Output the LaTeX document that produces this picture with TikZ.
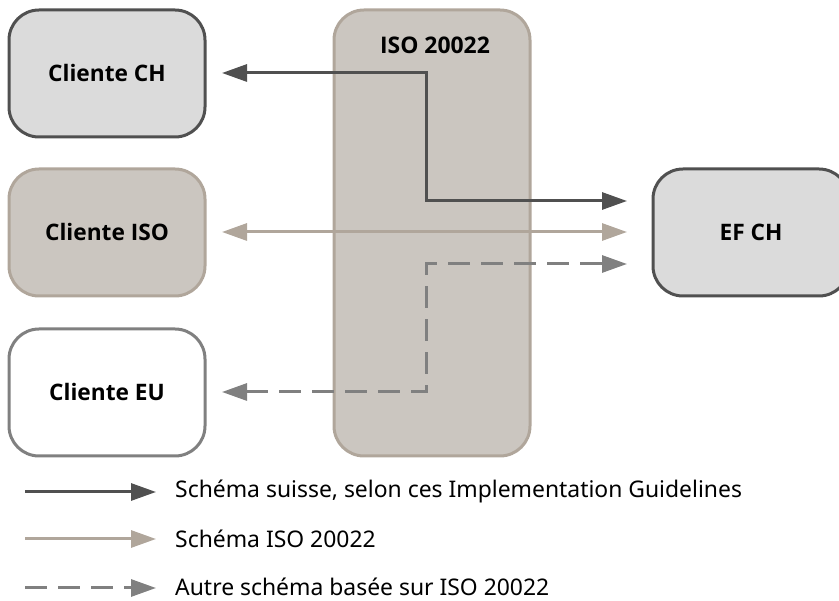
\documentclass[tikz,border=0pt]{standalone}
\usepackage{fontspec}
\setmainfont[BoldFont={Open Sans Bold}]{Noto Sans}
\usetikzlibrary{arrows.meta,calc}
\definecolor{dk}{HTML}{505050}
\definecolor{tan}{HTML}{B0A69B}
\definecolor{gr}{HTML}{808080}
\definecolor{lg}{HTML}{DBDBDB}
\definecolor{tanf}{HTML}{CBC6C0}
\tikzset{
  x=1pt,y=-1pt,
  headtip/.tip={Triangle[length=25pt,width=17pt]},
  boxnode/.style={rounded corners=30pt,line width=3pt,minimum width=196pt,minimum height=127pt,inner sep=0pt,font=\fontsize{22.7}{26}\selectfont\bfseries,text=black},
  chbox/.style={boxnode,draw=dk,fill=lg},
  isobox/.style={boxnode,draw=tan,fill=tanf},
  eubox/.style={boxnode,draw=gr,fill=white},
  conn/.style={line width=3pt},
  dkline/.style={conn,draw=dk},
  tanline/.style={conn,draw=tan},
  grline/.style={conn,draw=gr,dash pattern=on 22pt off 11pt},
  legtext/.style={anchor=west,inner sep=0pt,font=\fontsize{22.9}{26}\selectfont,text=black},
}
\begin{document}
\begin{tikzpicture}
\useasboundingbox (0,0) rectangle (839,601);
\node[isobox,minimum height=446pt] (iso) at (432,233) {};
\node[anchor=base,font=\fontsize{22.9}{26}\selectfont\bfseries,inner sep=0pt] (isot) at (435,54) {ISO 20022};
\node[chbox] (cch) at (107,73.5) {\raisebox{1pt}{Cliente CH}};
\node[isobox] (ciso) at (107,232.5) {\raisebox{1pt}{Cliente ISO}};
\node[eubox] (ceu) at (107,392.5) {\raisebox{1pt}{Cliente EU}};
\node[chbox] (ef) at (751,232.5) {\raisebox{1pt}{EF CH}};
% free ends
\coordinate (a1) at (222,73);
\coordinate (b1) at (627,201);
\coordinate (a2) at (222,232);
\coordinate (b2) at (627,232);
\coordinate (a3) at (222,392);
\coordinate (b3) at (627,264);
\coordinate (l1a) at (25,492);
\coordinate (l1b) at (156,492);
\coordinate (l2a) at (25,539);
\coordinate (l2b) at (156,539);
\coordinate (l3a) at (25,588);
\coordinate (l3b) at (156,588);
% connectors
\draw[tanline,headtip-headtip] (a2) -- (b2);
\draw[dkline,headtip-headtip] (a1) -- (426,73) -- (426,201) -- (b1);
\draw[grline,headtip-headtip] (a3) -- (426,392) -- (426,264) -- (b3);
% legend
\draw[dkline,-headtip] (l1a) -- (l1b);
\draw[tanline,-headtip] (l2a) -- (l2b);
\draw[grline,-headtip] (l3a) -- (l3b);
\node[legtext] (t1) at (175,491) {Schéma suisse, selon ces Implementation Guidelines};
\node[legtext] (t2) at (175,539) {Schéma ISO 20022};
\node[legtext] (t3) at (175,587) {Autre schéma basée sur ISO 20022};
\end{tikzpicture}
\end{document}
